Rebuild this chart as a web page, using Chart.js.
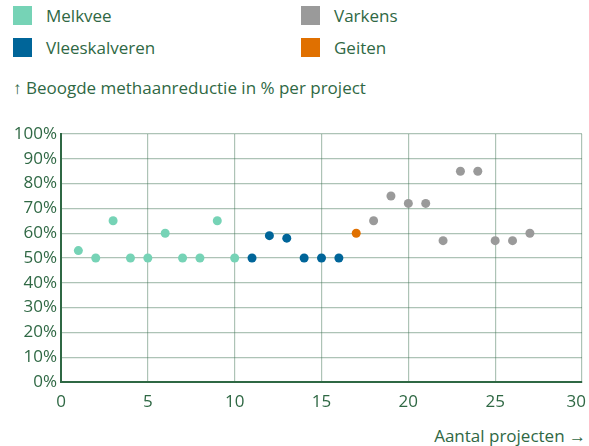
<!DOCTYPE html>
<html lang="nl">
<head>
<meta charset="utf-8">
<script src="https://cdn.jsdelivr.net/npm/chart.js@4/dist/chart.umd.min.js"></script>
<style>
  html, body { margin: 0; padding: 0; background: #fff; }
  body { width: 589px; height: 446px; position: relative; overflow: hidden;
         font-family: "Open Sans", sans-serif; color: #2f6844; }
  #chart { position: absolute; left: 0; top: 0; }
  .key { position: absolute; font-size: 17px; line-height: 20px; white-space: nowrap; }
  .key i { position: absolute; left: -33px; top: 0; width: 19px; height: 19px; }
  .axis-title { position: absolute; font-size: 17px; line-height: 20px; white-space: nowrap; }
</style>
</head>
<body>
<div class="key" style="left:46px;top:6px"><i style="background:#76d3b6"></i>Melkvee</div>
<div class="key" style="left:334px;top:6px"><i style="background:#9a9a9a"></i>Varkens</div>
<div class="key" style="left:46px;top:38px"><i style="background:#006599"></i>Vleeskalveren</div>
<div class="key" style="left:334px;top:38px"><i style="background:#e07000"></i>Geiten</div>
<div class="axis-title" style="left:13px;top:78px">↑ Beoogde methaanreductie in % per project</div>
<div class="axis-title" style="right:3px;top:426px">Aantal projecten →</div>
<canvas id="chart" width="589" height="446"></canvas>
<script>
// projectnummer en beoogde reductie (%) per sector
const melkveeX = [1, 2, 3, 4, 5, 6, 7, 8, 9, 10];
const melkveeY = [53, 50, 65, 50, 50, 60, 50, 50, 65, 50];
const kalverenX = [11, 12, 13, 14, 15, 16];
const kalverenY = [50, 59, 58, 50, 50, 50];
const geitenX = [17];
const geitenY = [60];
const varkensX = [18, 19, 20, 21, 22, 23, 24, 25, 26, 27];
const varkensY = [65, 75, 72, 72, 57, 85, 85, 57, 57, 60];

const green = "#2f6844";
const gridColor = "rgba(60, 112, 80, 0.42)";

function points(xs, ys) {
  return xs.map((x, i) => ({ x: x, y: ys[i] }));
}

function series(label, xs, ys, color) {
  return {
    label: label,
    data: points(xs, ys),
    backgroundColor: color,
    borderColor: color,
    pointRadius: 4.5,
    pointBorderWidth: 0,
  };
}

// keep the last x label ("30") inside the canvas by right-aligning it
const lastTickRight = {
  id: "lastTickRight",
  beforeDraw(chart) {
    const items = chart.scales.x.getLabelItems();
    const last = items[items.length - 1];
    if (!last) return;
    last.options.textAlign = "right";
    last.options.translation[0] += 4;
  },
};

new Chart(document.getElementById("chart"), {
  type: "scatter",
  data: {
    datasets: [
      series("Melkvee", melkveeX, melkveeY, "#76d3b6"),
      series("Vleeskalveren", kalverenX, kalverenY, "#006599"),
      series("Geiten", geitenX, geitenY, "#e07000"),
      series("Varkens", varkensX, varkensY, "#9a9a9a"),
    ],
  },
  plugins: [lastTickRight],
  options: {
    responsive: false,
    animation: false,
    layout: { padding: { top: 134, right: 7, bottom: 0, left: 0 } },
    plugins: { legend: { display: false }, tooltip: { enabled: false } },
    scales: {
      x: {
        type: "linear",
        min: 0,
        max: 30,
        ticks: { stepSize: 5, padding: 10, color: green, font: { family: "Open Sans", size: 17 } },
        grid: { color: gridColor, lineWidth: 1.2, drawTicks: false },
        border: { color: green, width: 2 },
        afterFit: (scale) => {
          scale.height = 64;
          scale.paddingLeft = 0;
          scale.paddingRight = 0;
        },
      },
      y: {
        min: 0,
        max: 100,
        ticks: {
          stepSize: 10,
          padding: 4,
          color: green,
          font: { family: "Open Sans", size: 17 },
          callback: (v) => v + "%",
        },
        grid: { color: gridColor, lineWidth: 1.2, drawTicks: false },
        border: { color: green, width: 2 },
        afterFit: (scale) => {
          scale.width = 61;
          scale.paddingTop = 0;
          scale.paddingBottom = 0;
        },
      },
    },
  },
});
</script>
</body>
</html>
